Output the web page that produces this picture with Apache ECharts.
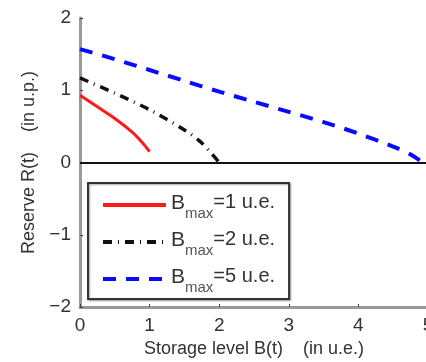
<!DOCTYPE html>
<html>
<head>
<meta charset="utf-8">
<script src="https://cdn.jsdelivr.net/npm/echarts@6/dist/echarts.min.js"></script>
<style>
  html, body { margin: 0; padding: 0; background: #fff; }
  #chart { width: 426px; height: 362px; }
</style>
</head>
<body>
<div id="chart"></div>
<script>
// storage level values (u.e.) and reserve (u.p.) for each B_max
const xB1 = [0, 0.25, 0.5, 0.75, 0.9, 1]
const yB1 = [0.93, 0.77, 0.61, 0.42, 0.27, 0.15]

const xB2 = [0, 0.5, 1, 1.5, 1.75, 2]
const yB2 = [1.17, 0.96, 0.73, 0.45, 0.27, 0.0]

const xB5 = [0, 0.5, 1, 1.5, 2, 2.5, 3, 3.5, 4, 4.5, 4.75, 5]
const yB5 = [1.57, 1.43, 1.28, 1.13, 0.98, 0.84, 0.70, 0.56, 0.40, 0.22, 0.11, -0.05]

const bmaxLabels = ['1', '2', '5']
const xTicks = [0, 1, 2, 3, 4, 5]
const yTicks = [-2, -1, 0, 1, 2]

const font = 'Liberation Sans, Arial, sans-serif'

function pairs(xs, ys) {
  return xs.map((x, i) => [x, ys[i]])
}

const chart = echarts.init(document.getElementById('chart'), null, { renderer: 'canvas' })

chart.setOption({
  animation: false,
  grid: {
    left: 80,
    top: 18,
    right: -2,
    bottom: 55,
    outerBoundsMode: 'none'
  },
  xAxis: {
    type: 'value',
    min: xTicks[0],
    max: xTicks[xTicks.length - 1],
    interval: 1,
    name: 'Storage level B(t)    (in u.e.)',
    nameLocation: 'middle',
    nameGap: 31,
    nameTextStyle: { fontFamily: font, fontSize: 18, color: '#333' },
    axisLine: { onZero: false, lineStyle: { color: '#999', width: 3 } },
    axisTick: { inside: true, length: 3, lineStyle: { color: '#444' } },
    axisLabel: { fontFamily: font, fontSize: 19, color: '#333', margin: 9, showMaxLabel: true },
    splitLine: { show: false }
  },
  yAxis: {
    type: 'value',
    min: yTicks[0],
    max: yTicks[yTicks.length - 1],
    interval: 1,
    name: 'Reserve R(t)    (in u.p.)',
    nameLocation: 'middle',
    nameGap: 41,
    nameTextStyle: { fontFamily: font, fontSize: 18, color: '#333' },
    axisLine: { show: true, onZero: false, lineStyle: { color: '#999', width: 3 } },
    axisTick: { show: true, inside: true, length: 3, lineStyle: { color: '#444' } },
    axisLabel: {
      fontFamily: font, fontSize: 19, color: '#333', margin: 9,
      formatter: v => (v < 0 ? '\u2212' + Math.abs(v) : String(v))
    },
    splitLine: { show: false }
  },
  legend: {
    orient: 'vertical',
    left: 88,
    top: 183,
    padding: [6, 14, 4, 13],
    itemGap: 5,
    itemWidth: 63,
    itemHeight: 14,
    backgroundColor: '#fff',
    borderColor: '#333',
    borderWidth: 2,
    shadowColor: 'rgba(0,0,0,0.35)',
    shadowBlur: 2,
    shadowOffsetX: 1,
    shadowOffsetY: 1,
    itemStyle: { opacity: 0 },
    lineStyle: { width: 4 },
    data: bmaxLabels.map(b => 'B' + b),
    formatter: name => '{b|B}{s|max}{t|=' + name.slice(1) + ' u.e.}',
    textStyle: {
      fontFamily: font,
      color: '#333',
      rich: {
        b: { fontFamily: font, fontSize: 21, color: '#333', lineHeight: 25, verticalAlign: 'top' },
        s: { fontFamily: font, fontSize: 15, color: '#555', lineHeight: 25, padding: [17, 0, 0, 0] },
        t: { fontFamily: font, fontSize: 20, color: '#333', lineHeight: 25, verticalAlign: 'top' }
      }
    }
  },
  series: [
    {
      name: 'B' + bmaxLabels[0],
      type: 'line',
      data: pairs(xB1, yB1),
      showSymbol: false,
      symbol: 'none',
      smooth: 0.3,
      lineStyle: { color: '#ff1a1a', width: 3 },
      itemStyle: { color: '#ff1a1a' },
      markLine: {
        silent: true,
        symbol: 'none',
        label: { show: false },
        lineStyle: { color: '#111', width: 2, type: 'solid' },
        data: [{ yAxis: 0 }]
      },
      z: 3
    },
    {
      name: 'B' + bmaxLabels[1],
      type: 'line',
      data: pairs(xB2, yB2),
      showSymbol: false,
      symbol: 'none',
      smooth: 0.3,
      lineStyle: { color: '#111', width: 3.5, type: [9, 6, 1, 6] },
      itemStyle: { color: '#111' },
      z: 3
    },
    {
      name: 'B' + bmaxLabels[2],
      type: 'line',
      data: pairs(xB5, yB5),
      showSymbol: false,
      symbol: 'none',
      smooth: 0.3,
      lineStyle: { color: '#0a0aff', width: 4, type: [13, 10] },
      itemStyle: { color: '#0a0aff' },
      z: 3
    }
  ]
})
</script>
</body>
</html>
